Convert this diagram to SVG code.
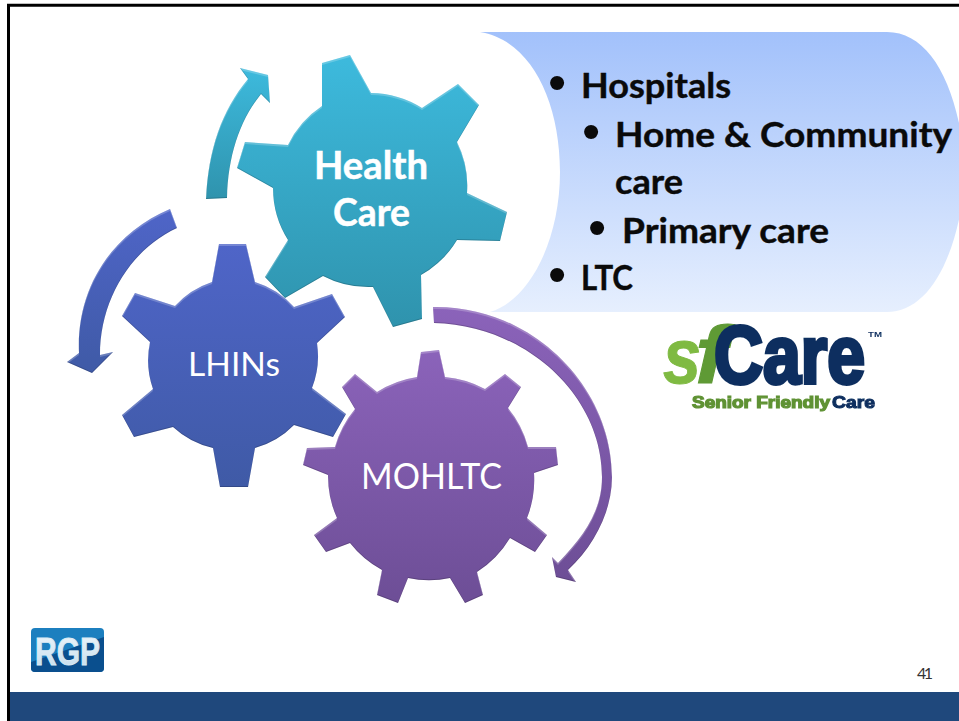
<svg xmlns="http://www.w3.org/2000/svg" width="959" height="721" viewBox="0 0 959 721">
<style>
.sb{font-family:Lato,"Noto Sans","Liberation Sans",sans-serif;font-weight:700}
.sr{font-family:Lato,"Noto Sans","Liberation Sans",sans-serif;font-weight:400}
.w{fill:#fff}
.k{fill:#0a0a0a;font-size:34px;stroke:#0a0a0a;stroke-width:.4px}
.bu{fill:#0a0a0a;font-family:"Liberation Sans",sans-serif;font-size:52px}
.lg{font-family:"Liberation Sans",sans-serif;font-weight:700}
</style>
<defs>
<linearGradient id="pan" x1="0" y1="0" x2="0" y2="1"><stop offset="0" stop-color="#a2c1fb"/><stop offset="1" stop-color="#e6effe"/></linearGradient>
<linearGradient id="teal" x1="0" y1="0" x2="0" y2="1"><stop offset="0" stop-color="#3dbadd"/><stop offset="1" stop-color="#2f93ad"/></linearGradient>
<linearGradient id="blue" x1="0" y1="0" x2="0" y2="1"><stop offset="0" stop-color="#4f65c8"/><stop offset="1" stop-color="#3f5aa6"/></linearGradient>
<linearGradient id="pur" x1="0" y1="0" x2="0" y2="1"><stop offset="0" stop-color="#8b63ba"/><stop offset="1" stop-color="#6d4e96"/></linearGradient>
<linearGradient id="rgpt" x1="0" y1="0" x2="0" y2="1"><stop offset="0" stop-color="#eef6fb"/><stop offset="1" stop-color="#c4dcec"/></linearGradient>
<filter id="bevel" x="-5%" y="-5%" width="110%" height="110%" color-interpolation-filters="sRGB">
<feOffset in="SourceAlpha" dx="0" dy="2" result="d"/>
<feComposite in="SourceAlpha" in2="d" operator="out" result="top"/>
<feGaussianBlur in="top" stdDeviation="0.7" result="topb"/>
<feFlood flood-color="#fff" flood-opacity="0.22"/>
<feComposite in2="topb" operator="in" result="hl"/>
<feOffset in="SourceAlpha" dx="0" dy="-1.5" result="u"/>
<feComposite in="SourceAlpha" in2="u" operator="out" result="bot"/>
<feGaussianBlur in="bot" stdDeviation="0.7" result="botb"/>
<feFlood flood-color="#000" flood-opacity="0.18"/>
<feComposite in2="botb" operator="in" result="sh"/>
<feMerge><feMergeNode in="SourceGraphic"/><feMergeNode in="hl"/><feMergeNode in="sh"/></feMerge>
</filter>
<filter id="soft" x="-5%" y="-5%" width="110%" height="110%"><feGaussianBlur stdDeviation="0.45"/></filter>
</defs>
<rect width="959" height="721" fill="#fff"/>
<g id="panel"><path d="M480,32 L887,32 C930,32 959,85 966,172 C959,255 930,312 887,312 L490,312 C530,300 560,240 560,172 C560,100 530,40 480,32 Z" fill="url(#pan)"/>
<text class="bu" x="548" y="100">•</text><text class="sb k" x="581" y="98" textLength="150" lengthAdjust="spacingAndGlyphs">Hospitals</text>
<text class="bu" x="582" y="149">•</text><text class="sb k" x="615" y="147" textLength="337" lengthAdjust="spacingAndGlyphs">Home &amp; Community</text>
<text class="sb k" x="615" y="194" textLength="68" lengthAdjust="spacingAndGlyphs">care</text>
<text class="bu" x="588" y="245">•</text><text class="sb k" x="622" y="243" textLength="207" lengthAdjust="spacingAndGlyphs">Primary care</text>
<text class="bu" x="548" y="292">•</text><text class="sb k" x="581" y="290" textLength="52" lengthAdjust="spacingAndGlyphs">LTC</text>
</g>
<g id="connectors">
<path filter="url(#bevel)" fill="url(#teal)" d="M206,199 C208,150 222,110 248,79 L240,68 L268,75 L270,103 L261,94 C240,120 228,155 227,198 Z"/>
<path filter="url(#bevel)" fill="url(#blue)" d="M170,209 C115,232 76,285 79,353 L67,362 L92,373 L113,352 L100,355 C100,300 130,250 177,228 Z"/>
<path filter="url(#bevel)" fill="url(#pur)" d="M433,307 C530,305 612,385 612,477 C612,510 595,545 568,570 L576,582 L556,577 L552,557 L558,563 C585,535 602,510 602,477 C602,395 525,325 434,323 Z"/>
</g>
<g id="mohltc"><path filter="url(#bevel)" fill="url(#pur)" d="M417,377 L421,352 L439,350 L445,377 A103,103 0 0 1 485,389 L505,374 L521,387 L508,408 A103,103 0 0 1 528,447 L556,447 L558,465 L534,473 A103,103 0 0 1 527,518 L547,535 L535,552 L510,538 A103,103 0 0 1 477,572 L483,595 L465,603 L450,578 A103,103 0 0 1 408,578 L398,603 L377,595 L382,570 A103,103 0 0 1 350,543 L326,552 L314,535 L337,518 A103,103 0 0 1 328,475 L303,465 L307,448 L335,447 A103,103 0 0 1 355,409 L342,387 L355,374 L377,392 A103,103 0 0 1 417,377 Z"/>
<text class="sr w" x="361" y="489" font-size="37" textLength="141" lengthAdjust="spacingAndGlyphs">MOHLTC</text></g>
<g id="healthcare"><path filter="url(#bevel)" fill="url(#teal)" d="M322,106 L322,63 L350,55 L371,93 A98,98 0 0 1 422,108 L458,84 L479,105 L457,142 A98,98 0 0 1 467,193 L507,212 L500,241 L457,240 A98,98 0 0 1 421,275 L422,319 L393,327 L373,287 A98,98 0 0 1 323,276 L285,298 L265,277 L288,240 A98,98 0 0 1 273,188 L237,168 L245,142 L288,145 A98,98 0 0 1 322,106 Z"/>
<text class="sb w" x="314" y="179" font-size="39" stroke="#fff" stroke-width=".5" textLength="114" lengthAdjust="spacingAndGlyphs">Health</text>
<text class="sb w" x="333" y="226" font-size="39" stroke="#fff" stroke-width=".5" textLength="77" lengthAdjust="spacingAndGlyphs">Care</text></g>
<g id="lhins"><path filter="url(#bevel)" fill="url(#blue)" d="M212,282 L219,244 L246,244 L255,282 A87,87 0 0 1 294,307 L332,294 L345,317 L317,343 A87,87 0 0 1 312,388 L346,414 L333,437 L294,425 A87,87 0 0 1 255,448 L248,487 L220,487 L213,448 A87,87 0 0 1 173,427 L134,437 L122,415 L153,389 A87,87 0 0 1 150,342 L122,316 L135,293 L175,306 A87,87 0 0 1 212,282 Z"/>
<text class="sr w" x="188" y="376" font-size="33" textLength="92" lengthAdjust="spacingAndGlyphs">LHINs</text></g>
<g id="sfcare" filter="url(#soft)">
<text class="lg" x="663" y="383" font-size="78" font-style="italic" fill="#7fba42" stroke="#7fba42" textLength="38" lengthAdjust="spacingAndGlyphs">s</text>
<text class="lg" x="695" y="383" font-size="82" font-style="italic" fill="#5f9a36" stroke="#5f9a36" textLength="32" lengthAdjust="spacingAndGlyphs">f</text>
<text class="lg" x="714" y="383" font-size="82" fill="#0e2f5f" stroke="#0e2f5f" stroke-width="4" textLength="151" lengthAdjust="spacingAndGlyphs">Care</text>
<text class="lg" x="868" y="337" font-size="7" fill="#0e2f5f" textLength="14" lengthAdjust="spacingAndGlyphs">TM</text>
<text class="lg" x="692" y="408" font-size="16" fill="#5f9234" stroke="#5f9234" stroke-width="1.2" textLength="138" lengthAdjust="spacingAndGlyphs">Senior Friendly</text>
<text class="lg" x="832" y="408" font-size="16" fill="#0e2f5f" stroke="#0e2f5f" stroke-width="1" textLength="43" lengthAdjust="spacingAndGlyphs">Care</text>
</g>
<g id="rgp"><rect x="31" y="628" width="73" height="44" rx="4" fill="#1c7fbf"/><path d="M31,662 L104,637 V668 A4,4 0 0 1 100,672 H35 A4,4 0 0 1 31,668 Z" fill="#0a4f8e"/>
<text class="lg" x="35" y="665" font-size="39" fill="url(#rgpt)" stroke="#dcebf5" stroke-width=".9" textLength="65" lengthAdjust="spacingAndGlyphs">RGP</text></g>
<text id="page" x="917" y="679" font-family="Lato,sans-serif" font-size="16" fill="#333" textLength="16">41</text>
<rect id="footer" x="10" y="692" width="949" height="29" fill="#1f487c"/>
<path id="frame" d="M8.500,721 V5.200 H959" fill="none" stroke="#000" stroke-width="3"/>
</svg>
